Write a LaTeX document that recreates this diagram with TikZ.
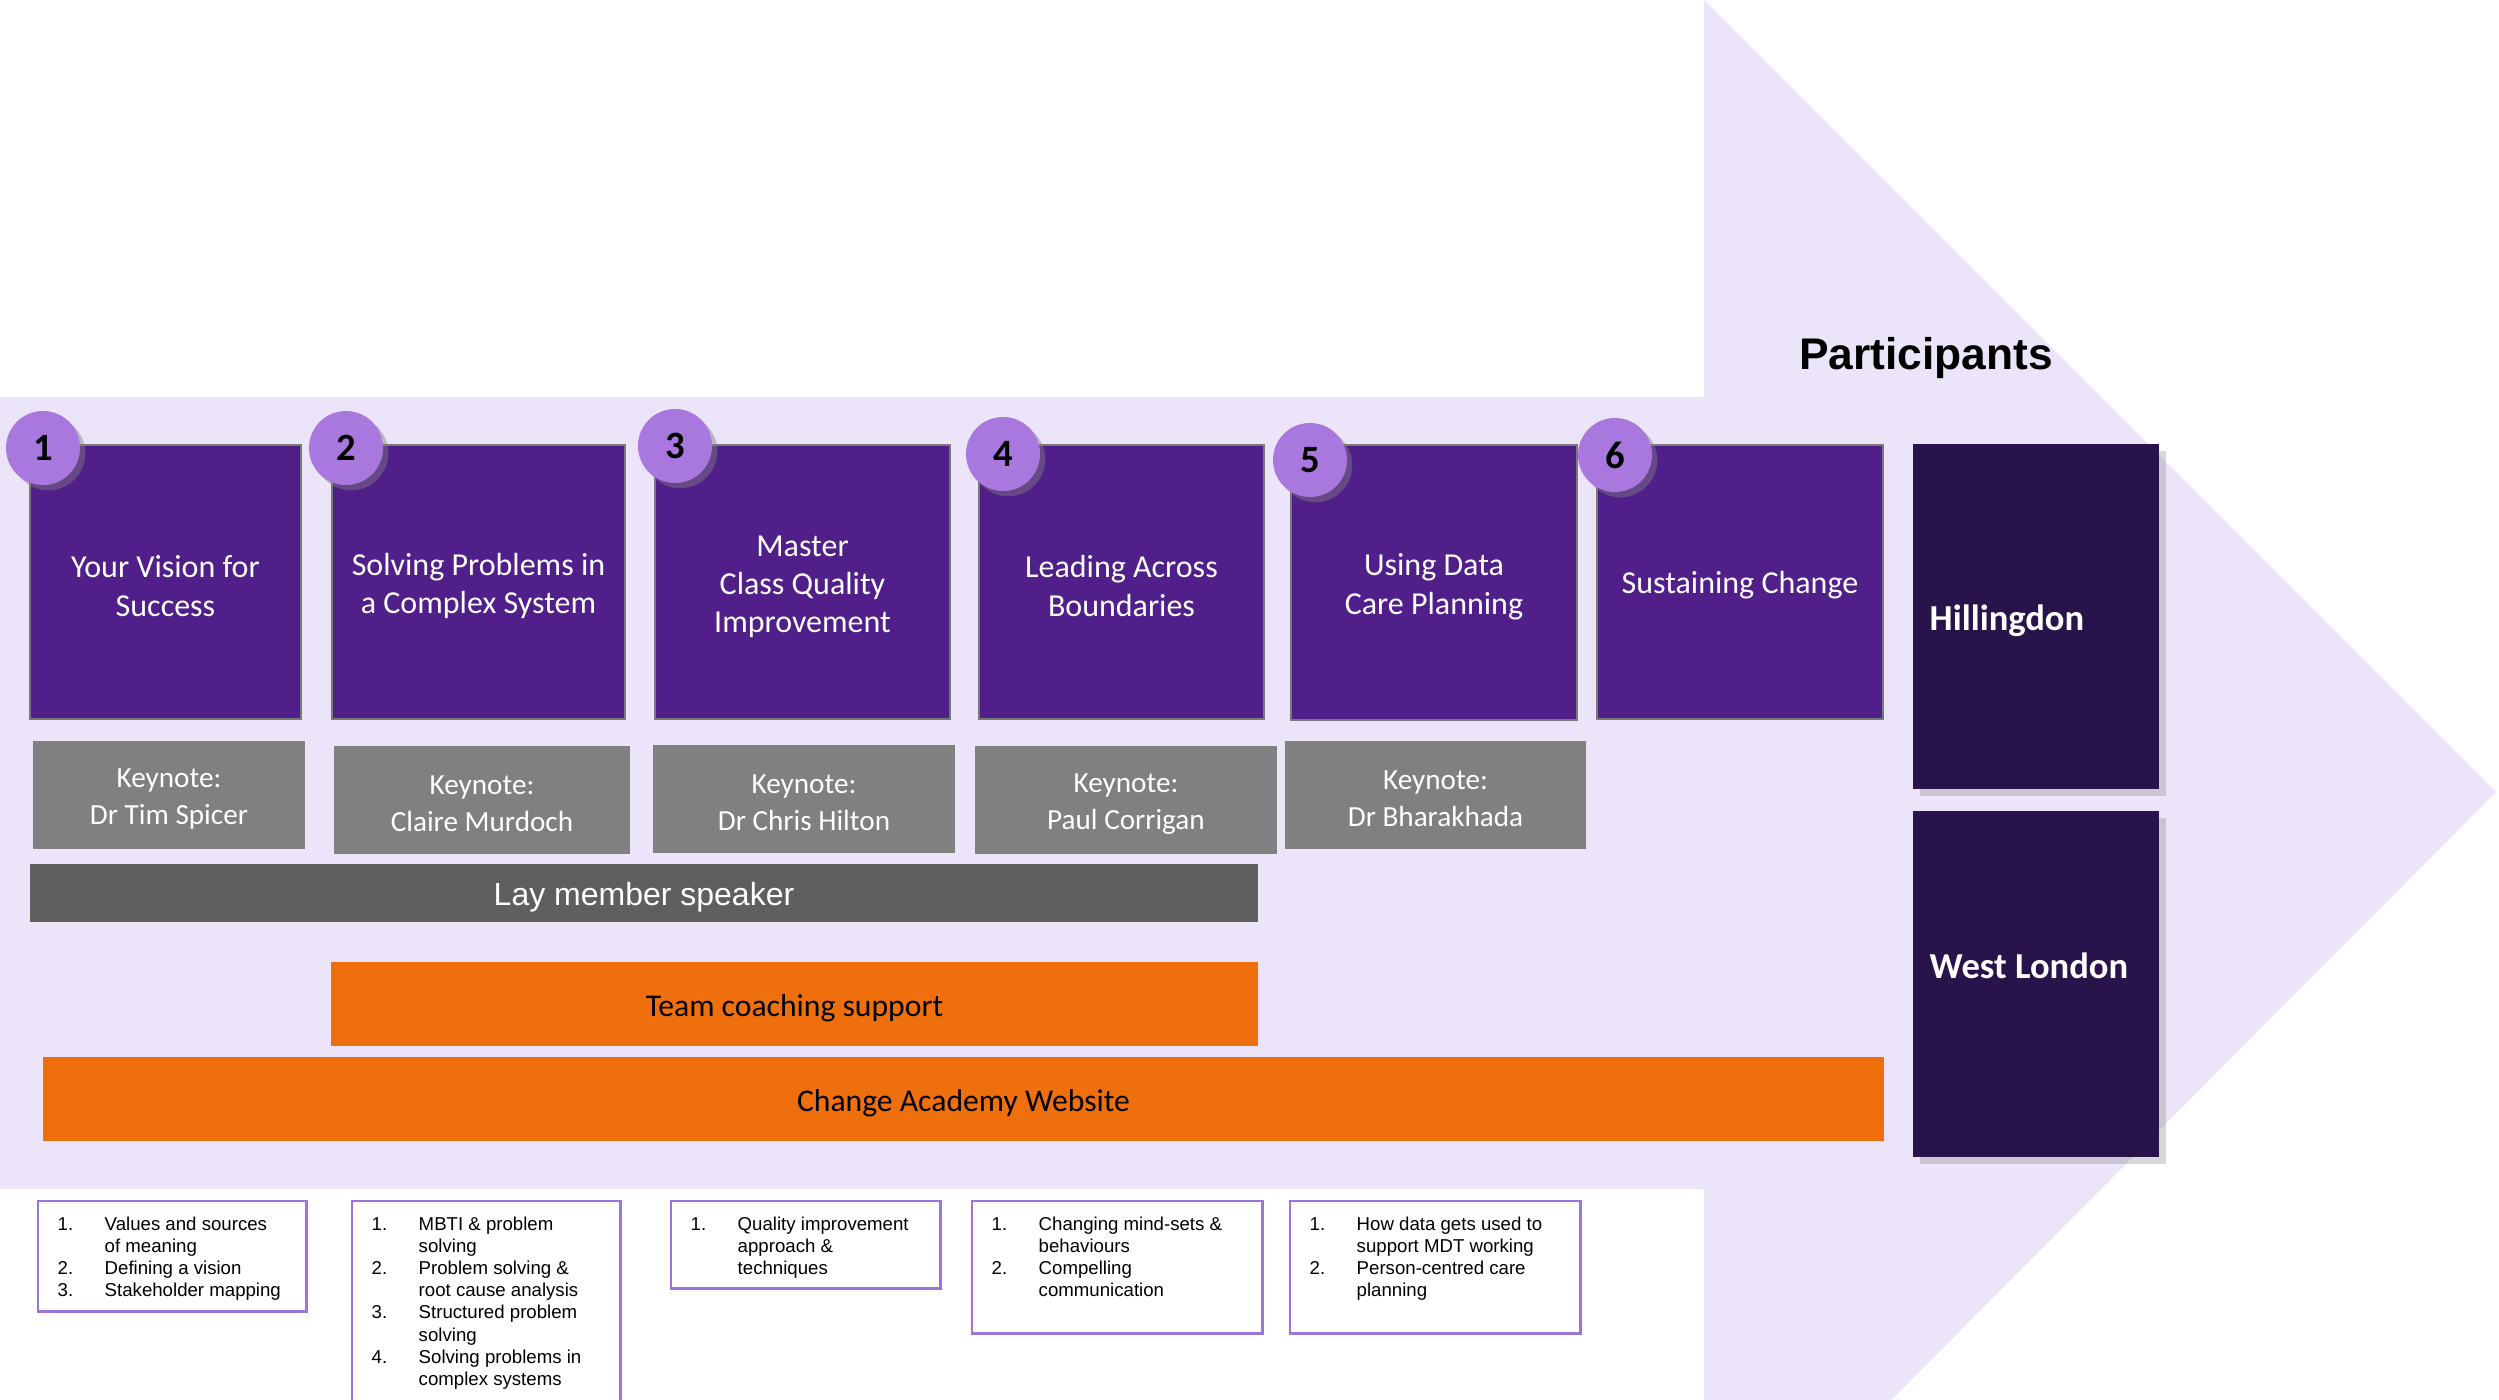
\documentclass[tikz,border=0pt]{standalone}
\usepackage{fontspec}
\setmainfont{Carlito}
\newfontfamily\arialfont{Liberation Sans}
\usetikzlibrary{shadows}
\definecolor{arrowbg}{HTML}{ECE4F8}
\definecolor{sesspurple}{HTML}{501F8A}
\definecolor{numpurple}{HTML}{A878DE}
\definecolor{keygray}{HTML}{808080}
\definecolor{laygray}{HTML}{5F5F5F}
\definecolor{coachorange}{HTML}{EE6F0B}
\definecolor{regiondark}{HTML}{28134A}
\definecolor{topicedge}{HTML}{9D74DA}
\newcommand\sesstop{\rule{0pt}{8.6pt}}
\newcommand\keytop{\rule{0pt}{7.6pt}}
\begin{document}
\begin{tikzpicture}[x=0.01cm,y=-0.01cm,
  session/.style={draw=gray!95!black,line width=0.6pt,fill=sesspurple,text=white,align=center,minimum height=2.74cm,font=\fontsize{9.1}{10.9}\selectfont},
  num/.style={circle,fill=numpurple,minimum size=0.74cm,inner sep=0pt,font=\bfseries\fontsize{11}{13}\selectfont,drop shadow={shadow xshift=1.5pt,shadow yshift=-1.5pt,opacity=0.45}},
  keynote/.style={fill=keygray,text=white,align=center,minimum height=1.08cm,font=\fontsize{8.3}{10.4}\selectfont},
  bar/.style={minimum height=0.84cm,inner sep=0pt,font=\fontsize{9}{11}\selectfont,execute at begin node={\rule{0pt}{8.8pt}}},
  region/.style={fill=regiondark,minimum width=2.46cm,minimum height=3.45cm,drop shadow={shadow xshift=2pt,shadow yshift=-2pt,opacity=0.3}},
  regiontext/.style={anchor=base west,inner sep=0pt,text=white,font=\bfseries\fontsize{10.4}{12}\selectfont},
  topic/.style={draw=topicedge,line width=0.7pt,fill=white,minimum width=2.68cm,anchor=north west},
  topictext/.style={anchor=north west,inner sep=0pt,font=\arialfont\fontsize{5.3}{6.3}\selectfont}]
\clip (0,0) rectangle (2499,1399);
\fill[white] (0,0) rectangle (2499,1399);
\fill[arrowbg] (0,397) -- (1704,397) -- (1704,0) -- (2496,792) -- (1704,1588) -- (1704,1189) -- (0,1189) -- cycle;
\node[session,minimum width=2.71cm] (s1) at (165.5,582) {\sesstop Your Vision for\\Success};
\node[session,minimum width=2.93cm] (s2) at (478.5,582) {\sesstop Solving Problems in\\a Complex System};
\node[session,minimum width=2.95cm] (s3) at (802.5,582) {\sesstop Master\\Class Quality\\Improvement};
\node[session,minimum width=2.85cm] (s4) at (1121.5,582) {\sesstop Leading Across\\Boundaries};
\node[session,minimum width=2.86cm] (s5) at (1434,582.5) {\sesstop Using Data\\Care Planning};
\node[session,minimum width=2.86cm] (s6) at (1740,582) {\rule{0pt}{8pt}Sustaining Change};
\node[num] (n1) at (43,448) {1};
\node[num] (n2) at (346,448) {2};
\node[num] (n3) at (675,446) {3};
\node[num] (n4) at (1003,454) {4};
\node[num] (n5) at (1310,460) {5};
\node[num] (n6) at (1615,455) {6};
\node[keynote,minimum width=2.72cm] (k1) at (169,795) {\keytop Keynote:\\Dr Tim Spicer};
\node[keynote,minimum width=2.96cm] (k2) at (482,800) {\keytop Keynote:\\Claire Murdoch};
\node[keynote,minimum width=3.02cm] (k3) at (804,799) {\keytop Keynote:\\Dr Chris Hilton};
\node[keynote,minimum width=3.02cm] (k4) at (1126,800) {\keytop Keynote:\\Paul Corrigan};
\node[keynote,minimum width=3.01cm] (k5) at (1435.5,795) {\keytop Keynote:\\Dr Bharakhada};
\node[bar,fill=laygray,text=white,font=\arialfont\fontsize{9.1}{11}\selectfont,minimum width=12.28cm,minimum height=0.58cm,execute at begin node={\rule{0pt}{9.2pt}}] (lay) at (644,892.5) {Lay member speaker};
\node[bar,fill=coachorange,minimum width=9.27cm] (coach) at (794.5,1004) {Team coaching support};
\node[bar,fill=coachorange,minimum width=18.39cm] (web) at (963.5,1099) {Change Academy Website};
\node[anchor=base,font=\arialfont\bfseries\fontsize{12.6}{15}\selectfont] (part) at (1926,369) {Participants};
\node[region] (hill) at (2036,616.5) {};
\node[region] (wl) at (2036,984) {};
\node[regiontext] (hilltxt) at (1929,630) {Hillingdon};
\node[regiontext] (wltxt) at (1929,978) {West London};
\node[topic,minimum height=1.10cm] (t1) at (37,1200) {};
\node[topic,minimum height=2.50cm] (t2) at (351,1200) {};
\node[topic,minimum height=0.87cm,minimum width=2.69cm] (t3) at (670,1200) {};
\node[topic,minimum height=1.32cm,minimum width=2.90cm] (t4) at (971,1200) {};
\node[topic,minimum height=1.32cm,minimum width=2.90cm] (t5) at (1289,1200) {};
\node[topictext] (l1) at ([shift={(20,14)}]t1.north west) {\begin{tabular}{@{}p{0.47cm}@{}l@{}}1. & Values and sources\\ & of meaning\\2. & Defining a vision\\3. & Stakeholder mapping\end{tabular}};
\node[topictext] (l2) at ([shift={(20,14)}]t2.north west) {\begin{tabular}{@{}p{0.47cm}@{}l@{}}1. & MBTI \& problem\\ & solving\\2. & Problem solving \&\\ & root cause analysis\\3. & Structured problem\\ & solving\\4. & Solving problems in\\ & complex systems\end{tabular}};
\node[topictext] (l3) at ([shift={(20,14)}]t3.north west) {\begin{tabular}{@{}p{0.47cm}@{}l@{}}1. & Quality improvement\\ & approach \&\\ & techniques\end{tabular}};
\node[topictext] (l4) at ([shift={(20,14)}]t4.north west) {\begin{tabular}{@{}p{0.47cm}@{}l@{}}1. & Changing mind-sets \&\\ & behaviours\\2. & Compelling\\ & communication\end{tabular}};
\node[topictext] (l5) at ([shift={(20,14)}]t5.north west) {\begin{tabular}{@{}p{0.47cm}@{}l@{}}1. & How data gets used to\\ & support MDT working\\2. & Person-centred care\\ & planning\end{tabular}};
\end{tikzpicture}
\end{document}
